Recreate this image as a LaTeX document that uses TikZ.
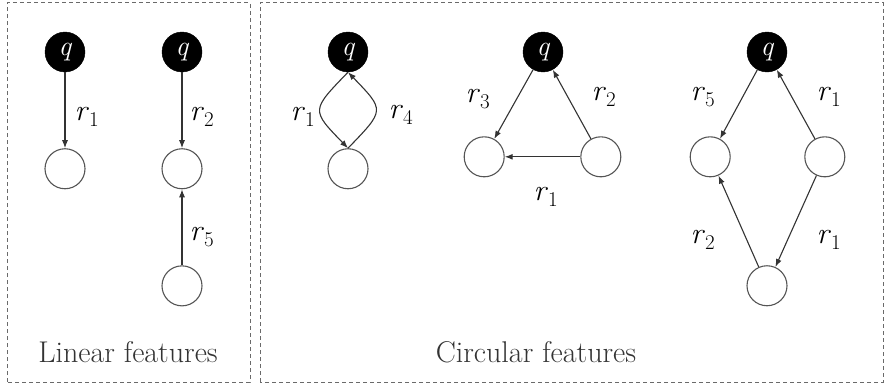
\documentclass[tikz,border=0pt]{standalone}
\usepackage{tikz}
\usetikzlibrary{arrows.meta, positioning}
\definecolor{ink}{HTML}{333333}
\definecolor{rim}{HTML}{555555}
\definecolor{frame}{HTML}{6A6A6A}
\newcommand{\rel}[1]{\textit{r}\textsubscript{#1}}

\begin{document}
\begin{tikzpicture}[
    x=1pt, y=1pt,
    node distance=76pt and 30pt,
    query/.style={circle, fill=black, draw=black, minimum size=40pt, inner sep=0pt, text=white, font=\fontsize{28}{28}\selectfont\itshape},
    entity/.style={circle, draw=rim, line width=1.1pt, fill=white, minimum size=40pt, inner sep=0pt},
    relarrow/.style={-{Latex[length=8pt, width=6pt]}, line width=1.1pt, color=ink},
    rlabel/.style={font=\fontsize{30}{30}\selectfont, inner sep=0pt},
    panel/.style={draw=frame, line width=1pt, dash pattern=on 4pt off 3pt},
    caption/.style={font=\fontsize{30}{30}\selectfont, text=ink},
  ]
  \useasboundingbox (0,0) rectangle (885,384);

  % frames
  \draw[panel] (7,2) rectangle (250,381);
  \draw[panel] (260,2) rectangle (883,381);

  % linear features
  \node[query] (qa) at (65,332) {q};
  \node[entity, below=of qa] (ea) {};
  \node[query] (qb) at (182,332) {q};
  \node[entity, below=of qb] (eb) {};
  \node[entity, below=of eb] (ec) {};

  \draw[relarrow] (qa) -- (ea);
  \draw[relarrow] (qb) -- (eb);
  \draw[relarrow] (ec) -- (eb);

  \node[rlabel] at (87,267) {\rel{1}};
  \node[rlabel] at (202,267) {\rel{2}};
  \node[rlabel] at (202,147) {\rel{5}};

  \node[caption] (lin) at (128,32) {Linear features};

  % circular features: loop
  \node[query] (qc) at (348,332) {q};
  \node[entity, below=of qc] (ed) {};
  \draw[relarrow] (qc.south) to[out=226, in=134, looseness=1.8] (ed.north);
  \draw[relarrow] (ed.north) to[out=46, in=-46, looseness=1.8] (qc.south);
  \node[rlabel] at (303,267) {\rel{1}};
  \node[rlabel] at (401,269) {\rel{4}};

  % circular features: triangle
  \node[query] (qd) at (543,332) {q};
  \node[entity, below left=76pt and 30pt of qd] (ee) {};
  \node[entity, below right=76pt and 29pt of qd] (ef) {};
  \draw[relarrow] (qd) -- (ee);
  \draw[relarrow] (ef) -- (qd);
  \draw[relarrow] (ef) -- (ee);
  \node[rlabel] at (478,285) {\rel{3}};
  \node[rlabel] at (604,287) {\rel{2}};
  \node[rlabel] at (546,187) {\rel{1}};

  % circular features: diamond
  \node[query] (qe) at (767,332) {q};
  \node[entity, below left=76pt and 28pt of qe] (eg) {};
  \node[entity, below right=76pt and 29pt of qe] (eh) {};
  \node[entity, below=193pt of qe] (ei) {};
  \draw[relarrow] (qe) -- (eg);
  \draw[relarrow] (eh) -- (qe);
  \draw[relarrow] (eh) -- (ei);
  \draw[relarrow] (ei) -- (eg);
  \node[rlabel] at (703,287) {\rel{5}};
  \node[rlabel] at (829,287) {\rel{1}};
  \node[rlabel] at (703,144) {\rel{2}};
  \node[rlabel] at (829,144) {\rel{1}};

  \node[caption] (circ) at (536,32) {Circular features};
\end{tikzpicture}
\end{document}
